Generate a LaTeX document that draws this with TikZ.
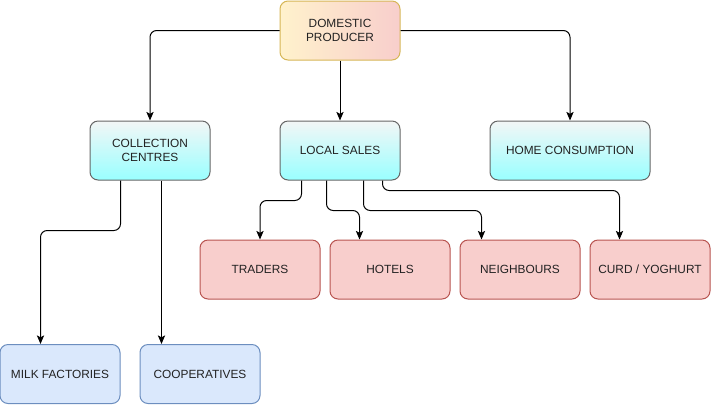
\documentclass[tikz,border=0pt]{standalone}
\usepackage{fontspec}
\setmainfont{Liberation Sans}
\usepackage{xcolor}
\usepackage{tikz}
\usetikzlibrary{positioning,calc,arrows.meta}

\definecolor{prodleft}{HTML}{FFF2CC}
\definecolor{prodright}{HTML}{F8CECC}
\definecolor{prodline}{HTML}{D6B656}
\definecolor{midtop}{HTML}{F3F6F6}
\definecolor{midbot}{HTML}{99FFFF}
\definecolor{midline}{HTML}{666666}
\definecolor{salefill}{HTML}{F8CECC}
\definecolor{saleline}{HTML}{B85450}
\definecolor{factfill}{HTML}{DAE8FC}
\definecolor{factline}{HTML}{6C8EBF}
\definecolor{txt}{HTML}{222222}

\tikzset{
  box/.style={rounded corners=6pt, minimum width=90pt, minimum height=44.25pt,
    line width=0.75pt, align=center, text=txt,
    font=\fontsize{8.9}{10.6}\selectfont},
  prodbox/.style={box, draw=prodline, left color=prodleft, right color=prodright},
  midbox/.style={box, draw=midline, top color=midtop, bottom color=midbot},
  salebox/.style={box, draw=saleline, fill=salefill},
  factbox/.style={box, draw=factline, fill=factfill},
  conn/.style={line width=0.75pt, rounded corners=5pt,
    -{Stealth[length=6.5pt, width=5.5pt, inset=1.5pt]}}
}

\begin{document}
\begin{tikzpicture}[x=0.75pt, y=-0.75pt]
  \useasboundingbox (0,0) rectangle (711,405);

  % top level
  \node[prodbox] (producer) at (340, 30.5) {DOMESTIC\\PRODUCER};

  % second level
  \node[midbox] (collect) at (150, 150.5) {COLLECTION\\CENTRES};
  \node[midbox] (local) at (340, 150.5) {LOCAL SALES};
  \node[midbox, minimum width=120pt] (home) at (570, 150.5) {HOME CONSUMPTION};

  % local sales outlets
  \node[salebox] (traders) at (260, 269.5) {TRADERS};
  \node[salebox] (hotels) at (390, 269.5) {HOTELS};
  \node[salebox] (neigh) at (520, 269.5) {NEIGHBOURS};
  \node[salebox] (curd) at (650, 269.5) {CURD / YOGHURT};

  % collection outlets
  \node[factbox] (milk) at (60, 374) {MILK FACTORIES};
  \node[factbox] (coop) at (200, 374) {COOPERATIVES};

  % producer links
  \draw[conn] (producer.west) -| (collect.north);
  \draw[conn] (producer.south) -- (local.north);
  \draw[conn] (producer.east) -| (home.north);

  % local sales links
  \draw[conn] ($(local.south west)+(22,0)$) -- ++(0,20) -| (traders.north);
  \draw[conn] ($(local.south west)+(47,0)$) -- ++(0,30) -| ($(hotels.north west)+(30,0)$);
  \draw[conn] ($(local.south west)+(84,0)$) -- ++(0,30) -| ($(neigh.north west)+(22,0)$);
  \draw[conn] ($(local.south west)+(103,0)$) -- ++(0,10) -| ($(curd.north west)+(30,0)$);

  % collection links
  \draw[conn] ($(collect.south west)+(31,0)$) -- ++(0,50) -| ($(milk.north west)+(41,0)$);
  \draw[conn] ($(collect.south west)+(72,0)$) -- ($(coop.north west)+(22,0)$);
\end{tikzpicture}
\end{document}
